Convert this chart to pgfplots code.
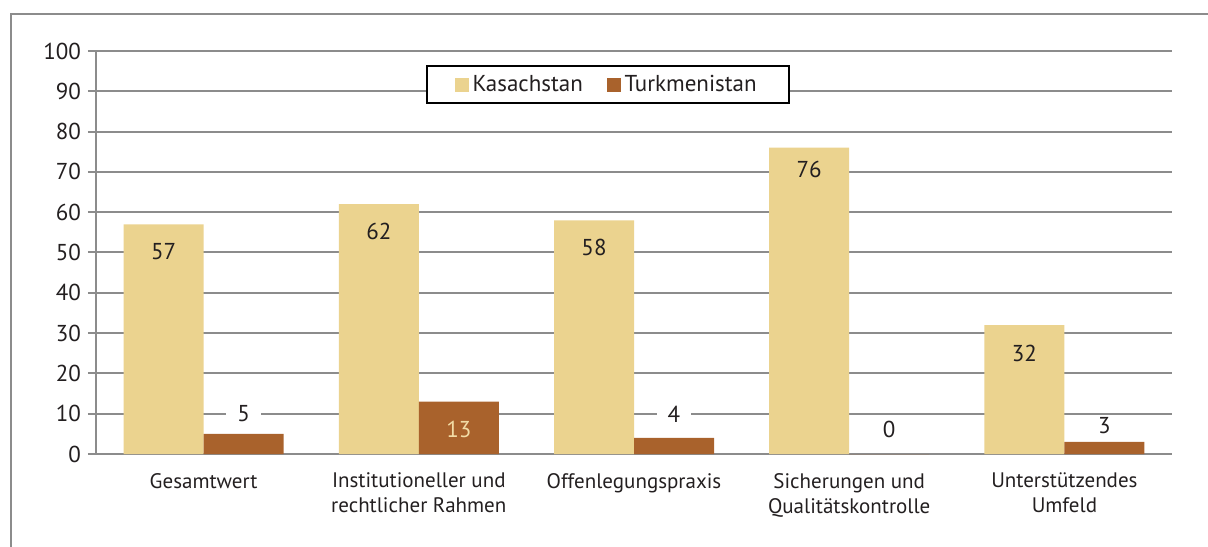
\documentclass[border=0pt]{standalone}
\usepackage{fontspec}
\setmainfont{PT Sans}
\usepackage{pgfplots}
\pgfplotsset{compat=1.18}

\definecolor{kas}{HTML}{EBD38F}
\definecolor{tur}{HTML}{A9622C}
\definecolor{gridc}{HTML}{8C8C8C}
\definecolor{txt}{HTML}{231F20}
\definecolor{lbl}{HTML}{F2DCA6}

% x = category index, dy = label offset from bar top (pt)
\pgfplotstableread{
x y dy
0 57 -13.5
1 62 -13.5
2 58 -13.5
3 76 -11
4 32 -14
}\kasdata
\pgfplotstableread{
x y dy in
0 5 10 0
1 13 -13.7 1
2 4 12 0
3 0 12.5 0
4 3 8 0
}\turdata

\begin{document}
\begin{tikzpicture}
\begin{axis}[
  name=ax, at={(0,0)}, anchor=south west,
  scale only axis, width=538pt, height=201.5pt,
  ybar=0pt, bar width=40pt,
  xmin=-0.5, xmax=4.5, ymin=0, ymax=100,
  xtick={0,...,4},
  xticklabels={Gesamtwert,{Institutioneller und\\rechtlicher Rahmen},Offenlegungspraxis,{Sicherungen und\\Qualitätskontrolle},{Unterstützendes\\Umfeld}},
  xtick style={draw=none},
  extra x ticks={-0.5,0.5,1.5,2.5,3.5,4.5},
  extra x tick labels={},
  extra x tick style={tick style={draw=gridc,line width=1pt}, major tick length=4pt, tick align=outside, grid=none},
  ytick={0,10,...,100},
  ytick style={draw=gridc,line width=1pt},
  major tick length=4pt, tick align=outside,
  ymajorgrids, grid style={gridc,line width=1pt},
  axis x line*=bottom, axis y line*=left,
  axis line style={draw=gridc,line width=1pt,-},
  /pgf/number format/assume math mode=true,
  ticklabel style={font=\fontsize{11.5}{13}\selectfont, text=txt},
  xticklabel style={align=center, font=\fontsize{10.5}{12.5}\selectfont, yshift=-2pt},
  legend columns=2,
  legend style={at={(0.4757,0.916)}, anchor=center, draw=black, line width=1pt,
    inner xsep=14pt, inner ysep=2.5pt, font=\fontsize{11.5}{13}\selectfont, text=txt,
    /tikz/every even column/.append style={column sep=10pt}},
]
\addplot[fill=kas, draw=none,
  legend image code/.code={\fill[kas] (0pt,-3.4pt) rectangle (6.8pt,3.4pt);},
  visualization depends on={\thisrow{dy} \as \dy},
  nodes near coords={\pgfmathprintnumber{\pgfplotspointmeta}},
  every node near coord/.append style={anchor=center, yshift=\dy pt, text=txt, font=\fontsize{11.5}{13}\selectfont}
] table[x=x,y=y] {\kasdata};
\addplot[fill=tur, draw=none,
  legend image code/.code={\fill[tur] (0pt,-3.4pt) rectangle (6.8pt,3.4pt);},
  visualization depends on={\thisrow{dy} \as \dy},
  visualization depends on={\thisrow{in} \as \inn},
  nodes near coords={\ifdim\inn pt>0.5pt \textcolor{lbl}{\pgfmathprintnumber{\pgfplotspointmeta}}\else\setlength{\fboxsep}{1.5pt}\colorbox{white}{\hspace{4pt}\pgfmathprintnumber{\pgfplotspointmeta}\hspace{4pt}}\fi},
  every node near coord/.append style={anchor=center, yshift=\dy pt, text=txt, font=\fontsize{11.5}{13}\selectfont}
] table[x=x,y=y] {\turdata};
\legend{Kasachstan,Turkmenistan}
\end{axis}
\draw[gridc, line width=1pt] (-42.5pt,-60pt) -- (-42.5pt,220pt) -- (580pt,220pt);
\pgfresetboundingbox
\useasboundingbox (-48pt,-46pt) rectangle (556pt,227pt);
\end{tikzpicture}
\end{document}
